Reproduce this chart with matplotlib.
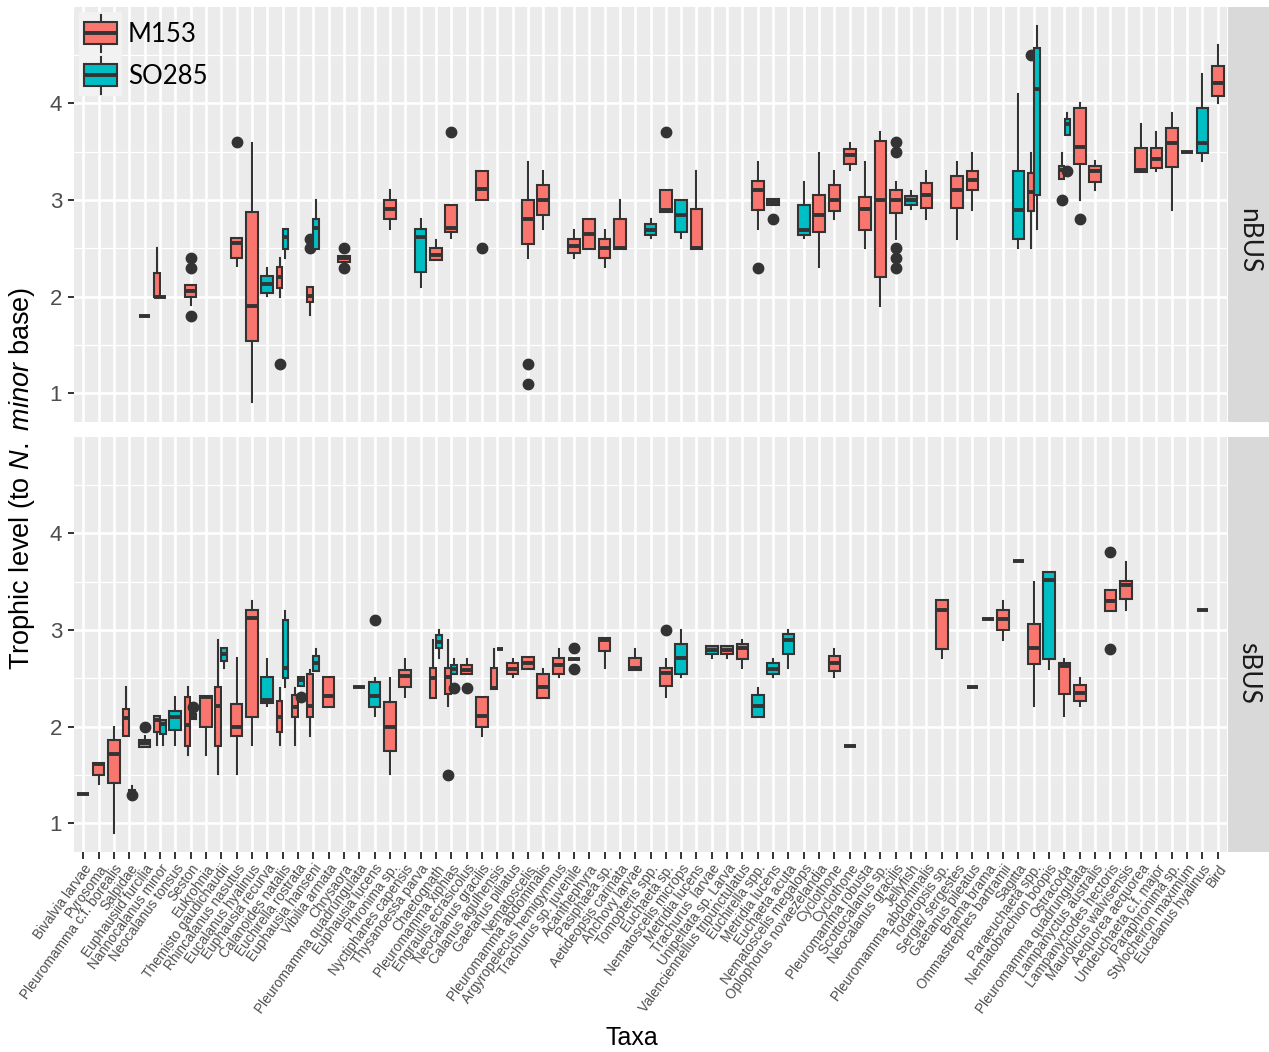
import matplotlib
matplotlib.use("Agg")
import matplotlib.pyplot as plt
from matplotlib.patches import Rectangle
from matplotlib.lines import Line2D
from matplotlib.ticker import FixedLocator

plt.rcParams["font.family"] = ["Liberation Sans", "DejaVu Sans"]
plt.rcParams["mathtext.fontset"] = "custom"
plt.rcParams["mathtext.it"] = "Liberation Sans:italic"
plt.rcParams["mathtext.rm"] = "Liberation Sans"

# ---------------------------------------------------------------- data
taxa = [
    "Bivalvia larvae", "Pyrosoma", "Pleuromamma c.f. borealis", "Salpidae",
    "Euphausiid furcilia", "Nannocalanus minor", "Neocalanus tonsus", "Seston",
    "Eukrohnia", "Themisto gaudichaudii", "Rhincalanus nasutus",
    "Eucalanus hyalinus", "Euphausia recurva", "Calanoides natalis",
    "Euchirella rostrata", "Euphausia hanseni", "Vibilia armata", "Chrysaora",
    "Pleuromamma quadrungulata", "Euphausia lucens", "Phronima sp.",
    "Nyctiphanes capensis", "Thysanoessa parva", "Chaetognath",
    "Pleuromamma xiphias", "Engraulis ecrasicolus", "Neocalanus gracilis",
    "Calanus agulhensis", "Gaetanus piliatus", "Nematoscelis",
    "Pleuromamma abdominalis", "Argyropelecus hemigymnus",
    "Trachurus sp. juvenile", "Acanthephyra", "Pasiphaea sp.",
    "Aetideopsis carinata", "Anchovy larvae", "Tomopteris spp.", "Euchaeta sp.",
    "Nematoscelis microps", "Metridia lucens", "Trachurus  larvae",
    "Unipeltata sp. Larva", "Valenciennellus tripunctulatus", "Euchirella spp.",
    "Metridia lucens", "Euchaeta acuta", "Nematoscelis megalops",
    "Oplophorus novaezelandia", "Cyclothone", "Cyclothone",
    "Pleuromamma robusta", "Scottocalanus sp.", "Neocalanus gracilis",
    "Jellyfish", "Pleuromamma abdominalis", "Todaropsis sp.",
    "Sergia/ sergestes", "Gaetanus pileatus", "Brama brama",
    "Ommastrephes bartramii", "Sagitta", "Paraeuchaeta spp.",
    "Nematobrachion boopis", "Ostracoda", "Pleuromamma quadrungulata",
    "Lampanyctus australis", "Lampanyctodes hectoris", "Maurolicus walvisensis",
    "Aequorea aequorea", "Undeuchaeta c.f. major", "Paraphronima sp.",
    "Stylocheiron maximum", "Eucalanus hyalinus", "Bird",
]

cruises = ["M153", "SO285"]
cruise_colors = {"M153": "#F8766D", "SO285": "#00BFC4"}

# nBUS: taxon number (1-based), cruise, whisker low, Q1, median, Q3, whisker high;
# outliers keyed by the row number (0-based) of the box they belong to
nbus_taxon = [5, 6, 6, 8, 11, 12, 13, 14, 14, 16, 16, 18, 21, 23, 24, 25, 27, 30,
              31, 33, 34, 35, 36, 38, 39, 40, 41, 45, 46, 48, 49, 50, 51, 52, 53,
              54, 55, 56, 58, 59, 62, 63, 63, 65, 65, 66, 67, 70, 71, 72, 73, 74, 75]
nbus_cruise = ["M153", "M153", "SO285", "M153", "M153", "M153", "SO285", "M153",
               "SO285", "M153", "SO285", "M153", "M153", "SO285", "M153", "M153",
               "M153", "M153", "M153", "M153", "M153", "M153", "M153", "SO285",
               "M153", "SO285", "M153", "M153", "SO285", "SO285", "M153", "M153",
               "M153", "M153", "M153", "M153", "SO285", "M153", "M153", "M153",
               "SO285", "M153", "SO285", "M153", "SO285", "M153", "M153", "M153",
               "M153", "M153", "M153", "SO285", "M153"]
nbus_low = [1.80, 2.00, 2.00, 1.91, 2.32, 0.91, 2.01, 2.00, 2.40, 1.81, 2.49, 2.35,
            2.70, 2.10, 2.38, 2.61, 3.00, 2.40, 2.70, 2.40, 2.49, 2.31, 2.49, 2.61,
            2.88, 2.61, 2.49, 2.70, 2.95, 2.61, 2.31, 2.80, 3.31, 2.50, 1.90, 2.60,
            2.91, 2.80, 2.60, 2.90, 2.50, 2.50, 2.70, 3.22, 3.67, 3.00, 3.10, 3.29,
            3.30, 2.90, 3.50, 3.40, 4.00]
nbus_q1 = [1.80, 2.00, 2.00, 2.00, 2.40, 1.54, 2.04, 2.09, 2.49, 1.95, 2.49, 2.36,
           2.80, 2.26, 2.38, 2.67, 3.00, 2.55, 2.85, 2.45, 2.49, 2.40, 2.49, 2.64,
           2.88, 2.67, 2.49, 2.90, 2.95, 2.64, 2.67, 2.89, 3.37, 2.69, 2.20, 2.87,
           2.95, 2.92, 2.92, 3.10, 2.60, 2.89, 3.05, 3.22, 3.67, 3.37, 3.19, 3.29,
           3.33, 3.34, 3.50, 3.49, 4.08]
nbus_med = [1.80, 2.00, 2.00, 2.06, 2.56, 1.90, 2.13, 2.20, 2.62, 2.01, 2.71, 2.40,
            2.91, 2.62, 2.43, 2.71, 3.11, 2.80, 3.00, 2.52, 2.65, 2.50, 2.50, 2.69,
            2.90, 2.85, 2.50, 3.10, 2.98, 2.69, 2.85, 3.00, 3.46, 2.91, 3.00, 3.00,
            3.00, 3.05, 3.10, 3.21, 2.90, 3.08, 4.15, 3.31, 3.79, 3.55, 3.30, 3.31,
            3.42, 3.59, 3.50, 3.59, 4.21]
nbus_q3 = [1.80, 2.25, 2.00, 2.12, 2.61, 2.88, 2.21, 2.31, 2.70, 2.10, 2.80, 2.42,
           3.00, 2.70, 2.50, 2.95, 3.30, 3.00, 3.16, 2.60, 2.80, 2.60, 2.80, 2.75,
           3.10, 3.00, 2.91, 3.20, 3.01, 2.95, 3.05, 3.16, 3.53, 3.03, 3.61, 3.10,
           3.04, 3.18, 3.25, 3.30, 3.30, 3.28, 4.57, 3.35, 3.84, 3.95, 3.35, 3.54,
           3.54, 3.74, 3.50, 3.95, 4.39]
nbus_high = [1.80, 2.50, 2.00, 2.12, 2.61, 3.59, 2.30, 2.40, 2.70, 2.10, 3.00, 2.42,
             3.10, 2.80, 2.59, 2.95, 3.30, 3.39, 3.30, 2.69, 2.80, 2.69, 3.00, 2.80,
             3.10, 3.00, 3.30, 3.39, 3.01, 3.19, 3.49, 3.30, 3.59, 3.39, 3.70, 3.19,
             3.09, 3.30, 3.39, 3.49, 4.10, 3.49, 4.80, 3.49, 3.90, 4.00, 3.40, 3.79,
             3.70, 3.90, 3.50, 4.30, 4.60]
nbus_out = {3: [2.4, 2.3, 1.8], 4: [3.6], 7: [1.3], 9: [2.6, 2.5], 11: [2.5, 2.3],
            15: [3.7], 16: [2.5], 17: [1.3, 1.1], 24: [3.7], 27: [2.3], 28: [2.8],
            35: [3.6, 3.5, 2.5, 2.4, 2.3], 41: [4.5], 43: [3.0], 44: [3.3], 45: [2.8]}

# sBUS
sbus_taxon = [1, 2, 3, 4, 4, 5, 6, 6, 7, 8, 8, 9, 10, 10, 11, 12, 13, 14, 14, 15,
              15, 16, 16, 17, 19, 20, 21, 22, 24, 24, 25, 25, 26, 27, 28, 28, 29,
              30, 31, 32, 33, 35, 37, 39, 40, 42, 43, 44, 45, 46, 47, 50, 51, 57,
              59, 60, 61, 62, 63, 64, 65, 66, 68, 69, 74]
sbus_cruise = ["M153", "M153", "M153", "M153", "SO285", "M153", "M153", "SO285",
               "SO285", "M153", "SO285", "M153", "M153", "SO285", "M153", "M153",
               "SO285", "M153", "SO285", "M153", "SO285", "M153", "SO285", "M153",
               "M153", "SO285", "M153", "M153", "M153", "SO285", "M153", "SO285",
               "M153", "M153", "M153", "SO285", "M153", "M153", "M153", "M153",
               "M153", "M153", "M153", "M153", "SO285", "SO285", "M153", "M153",
               "SO285", "SO285", "SO285", "M153", "M153", "M153", "M153", "M153",
               "M153", "M153", "M153", "SO285", "M153", "M153", "M153", "M153",
               "M153"]
sbus_low = [1.30, 1.41, 0.90, 1.90, 1.31, 1.79, 1.81, 1.81, 1.81, 1.71, 2.08, 1.71,
            1.51, 2.61, 1.51, 1.81, 2.21, 1.81, 2.41, 1.81, 2.42, 1.90, 2.58, 2.20,
            2.41, 2.11, 1.51, 2.31, 2.30, 2.71, 2.21, 2.55, 2.55, 1.90, 2.39, 2.80,
            2.51, 2.60, 2.30, 2.51, 2.70, 2.61, 2.59, 2.31, 2.51, 2.71, 2.71, 2.61,
            2.10, 2.51, 2.61, 2.51, 1.80, 2.71, 2.41, 3.11, 2.90, 3.71, 2.21, 2.60,
            2.11, 2.21, 3.20, 3.21, 3.21]
sbus_q1 = [1.30, 1.50, 1.42, 1.90, 1.31, 1.79, 1.95, 1.92, 1.97, 1.80, 2.08, 2.00,
           1.80, 2.68, 1.90, 2.10, 2.25, 1.95, 2.50, 2.10, 2.42, 2.10, 2.58, 2.20,
           2.41, 2.20, 1.75, 2.41, 2.30, 2.81, 2.34, 2.55, 2.55, 2.00, 2.39, 2.80,
           2.54, 2.60, 2.30, 2.55, 2.70, 2.78, 2.59, 2.42, 2.54, 2.75, 2.75, 2.70,
           2.10, 2.55, 2.75, 2.58, 1.80, 2.80, 2.41, 3.11, 3.00, 3.71, 2.65, 2.70,
           2.34, 2.27, 3.20, 3.32, 3.21]
sbus_med = [1.30, 1.61, 1.72, 2.09, 1.33, 1.83, 2.07, 2.03, 2.10, 2.02, 2.10, 2.31,
            2.21, 2.75, 2.00, 3.12, 2.28, 2.10, 2.61, 2.20, 2.48, 2.21, 2.66, 2.32,
            2.41, 2.32, 2.00, 2.52, 2.50, 2.88, 2.51, 2.60, 2.59, 2.11, 2.40, 2.80,
            2.60, 2.66, 2.41, 2.64, 2.70, 2.90, 2.61, 2.56, 2.71, 2.79, 2.79, 2.81,
            2.21, 2.60, 2.90, 2.66, 1.80, 3.21, 2.41, 3.11, 3.11, 3.71, 2.81, 3.52,
            2.63, 2.35, 3.30, 3.47, 3.21]
sbus_q3 = [1.30, 1.62, 1.86, 2.18, 1.35, 1.86, 2.11, 2.07, 2.16, 2.31, 2.13, 2.32,
           2.41, 2.81, 2.23, 3.21, 2.51, 2.27, 3.10, 2.33, 2.51, 2.55, 2.73, 2.51,
           2.41, 2.46, 2.26, 2.59, 2.61, 2.95, 2.61, 2.64, 2.64, 2.31, 2.61, 2.80,
           2.66, 2.72, 2.54, 2.71, 2.70, 2.92, 2.71, 2.61, 2.86, 2.83, 2.83, 2.86,
           2.33, 2.66, 2.96, 2.73, 1.80, 3.31, 2.41, 3.11, 3.21, 3.71, 3.06, 3.60,
           2.66, 2.43, 3.41, 3.51, 3.21]
sbus_high = [1.30, 1.62, 2.00, 2.41, 1.39, 1.90, 2.11, 2.07, 2.31, 2.41, 2.13, 2.32,
             2.90, 2.81, 2.71, 3.30, 2.70, 2.40, 3.20, 2.40, 2.51, 2.59, 2.80, 2.51,
             2.41, 2.50, 2.50, 2.70, 2.90, 3.00, 2.90, 2.70, 2.70, 2.31, 2.80, 2.80,
             2.70, 2.72, 2.60, 2.80, 2.70, 2.92, 2.80, 2.70, 3.00, 2.83, 2.83, 2.90,
             2.40, 2.70, 3.00, 2.80, 1.80, 3.31, 2.41, 3.11, 3.30, 3.71, 3.50, 3.60,
             2.70, 2.50, 3.41, 3.70, 3.21]
sbus_out = {4: [1.29], 5: [2.0], 10: [2.2], 20: [2.31], 25: [3.1], 30: [1.5],
            31: [2.4], 32: [2.4], 40: [2.81, 2.60], 43: [3.0], 62: [3.81, 2.80]}

regions = ["nBUS", "sBUS"]

# ---------------------------------------------------------------- style
PANEL_BG = "#EBEBEB"
STRIP_BG = "#D9D9D9"
DARK = "#333333"
TICK_TXT = "#4D4D4D"
FULL_W = 0.76
HALF_W = 0.37

W, H = 1269, 1052
fig = plt.figure(figsize=(W / 100, H / 100), dpi=100)


def px_axes(x0, y0, x1, y1):
    return fig.add_axes([x0 / W, 1 - y1 / H, (x1 - x0) / W, (y1 - y0) / H])


panel_px = [(74, 7, 1227, 422), (74, 437, 1227, 852)]
strip_px = [(1228, 7, 1269, 422), (1228, 437, 1269, 852)]
strip_text_y = [241, 673]

datasets = [
    (nbus_taxon, nbus_cruise, nbus_low, nbus_q1, nbus_med, nbus_q3, nbus_high, nbus_out),
    (sbus_taxon, sbus_cruise, sbus_low, sbus_q1, sbus_med, sbus_q3, sbus_high, sbus_out),
]

n = len(taxa)
axes = []
for k, (region, box, sbox, data) in enumerate(zip(regions, panel_px, strip_px, datasets)):
    ax = px_axes(*box)
    axes.append(ax)
    ax.set_facecolor(PANEL_BG)
    for s in ax.spines.values():
        s.set_visible(False)
    ax.set_xlim(0.4, n + 0.6)
    ax.set_ylim(0.705, 4.995)
    ax.set_axisbelow(True)
    ax.yaxis.set_major_locator(FixedLocator([1, 2, 3, 4]))
    ax.yaxis.set_minor_locator(FixedLocator([1.5, 2.5, 3.5, 4.5]))
    ax.xaxis.set_major_locator(FixedLocator(list(range(1, n + 1))))
    ax.grid(which="major", color="white", lw=1.9)
    ax.grid(which="minor", axis="y", color="white", lw=0.9)
    ax.tick_params(axis="y", which="major", length=4.5, width=1.4, color=DARK,
                   labelsize=16, labelcolor=TICK_TXT, pad=4)
    ax.tick_params(axis="y", which="minor", length=0)
    ax.set_yticklabels(["1", "2", "3", "4"])

    tx, cr, lo, q1, md, q3, hi, outs = data
    # taxa carrying both cruises in this region get side by side boxes
    counts = {}
    for t in tx:
        counts[t] = counts.get(t, 0) + 1
    for cruise in cruises:
        stats, pos, wid = [], [], []
        for i in range(len(tx)):
            if cr[i] != cruise:
                continue
            stats.append(dict(whislo=lo[i], q1=q1[i], med=md[i], q3=q3[i],
                              whishi=hi[i], fliers=outs.get(i, [])))
            if counts[tx[i]] > 1:
                off = -0.19 if cruise == "M153" else 0.19
                pos.append(tx[i] + off)
                wid.append(HALF_W)
            else:
                pos.append(tx[i])
                wid.append(FULL_W)
        ax.bxp(stats, positions=pos, widths=wid, patch_artist=True,
               showcaps=False, manage_ticks=False,
               boxprops=dict(facecolor=cruise_colors[cruise], edgecolor=DARK, lw=1.5),
               medianprops=dict(color=DARK, lw=2.8, solid_capstyle="butt"),
               whiskerprops=dict(color=DARK, lw=1.5),
               flierprops=dict(marker="o", markerfacecolor=DARK,
                               markeredgecolor=DARK, markersize=7.5))

    if k == 0:
        ax.tick_params(axis="x", length=0, labelbottom=False)
    else:
        ax.tick_params(axis="x", length=5, width=1.4, color=DARK, pad=2)
        ax.set_xticklabels(taxa, rotation=54, ha="right", rotation_mode="anchor",
                           fontsize=9.8, color=TICK_TXT)

    sax = px_axes(*sbox)
    sax.set_facecolor(STRIP_BG)
    sax.set_xticks([])
    sax.set_yticks([])
    for s in sax.spines.values():
        s.set_visible(False)
    sy = (box[3] - strip_text_y[k]) / (box[3] - box[1])
    sax.text(0.5, sy, region, rotation=-90, ha="center", va="center",
             fontsize=19, color="#1A1A1A", family=["Lato", "DejaVu Sans"],
             transform=sax.transAxes)

# ---------------------------------------------------------------- legend
lax = axes[0]
x0, y0, pw, ph = 74, 7, 1153, 415


def fx(x):
    return (x - x0) / pw


def fy(y):
    return 1 - (y - y0) / ph


for j, cruise in enumerate(cruises):
    cy = 33 + 42 * j
    lax.add_patch(Rectangle((fx(79), fy(cy + 21)), fx(122) - fx(79), fy(cy - 21) - fy(cy + 21),
                            transform=lax.transAxes, facecolor="#F2F2F2",
                            edgecolor="none", zorder=3))
    lax.add_line(Line2D([fx(100.5), fx(100.5)], [fy(cy + 19), fy(cy - 18)],
                        transform=lax.transAxes, color=DARK, lw=1.5, zorder=4))
    lax.add_patch(Rectangle((fx(84), fy(cy + 11)), fx(117) - fx(84), fy(cy - 11) - fy(cy + 11),
                            transform=lax.transAxes, facecolor=cruise_colors[cruise],
                            edgecolor=DARK, lw=1.5, zorder=5))
    lax.add_line(Line2D([fx(84), fx(117)], [fy(cy), fy(cy)], transform=lax.transAxes,
                        color=DARK, lw=2.8, solid_capstyle="butt", zorder=6))
    lax.text(fx(128), fy(cy + 1), cruise, transform=lax.transAxes, ha="left",
             va="center", fontsize=18.5, color="black",
             family=["Lato", "DejaVu Sans"], zorder=6)

# ---------------------------------------------------------------- titles
fig.text(22 / W, 1 - 478 / H, r"Trophic level (to $\mathit{N.\ minor}$ base)",
         rotation=90, ha="center", va="center", fontsize=19.5, color="black")
fig.text(632 / W, 1 - 1038 / H, "Taxa", ha="center", va="center",
         fontsize=18, color="black")

fig.savefig("out.png", dpi=100, facecolor="white")
